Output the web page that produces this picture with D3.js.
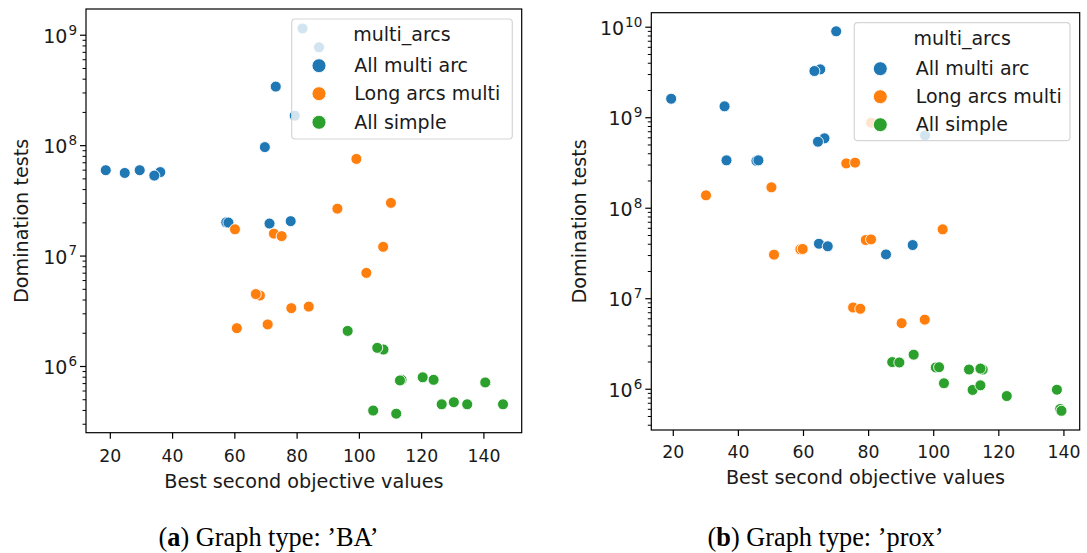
<!DOCTYPE html>
<html><head><meta charset="utf-8">
<script src="https://cdn.jsdelivr.net/npm/d3@7/dist/d3.min.js"></script>
<style>body{margin:0;background:#fff} svg{display:block}</style>
</head><body><svg id="c" width="1087" height="553"></svg>
<script>
const seriesNames = ["All multi arc", "Long arcs multi", "All simple"];
const legendTitle = "multi_arcs";
const xTicks = [20, 40, 60, 80, 100, 120, 140];
const baYExps = [6, 7, 8, 9];
const proxYExps = [6, 7, 8, 9, 10];

// Graph type 'BA'
const baMultiX = [18.7, 24.8, 29.6, 36.2, 34.3, 57.4, 58.1, 69.8, 73.3, 71.3, 78.1, 79.4, 81.9, 87.2];
const baMultiY = [5.93e7, 5.6e7, 5.93e7, 5.7e7, 5.3e7, 2.0e7, 1.99e7, 9.6e7, 3.39e8, 1.95e7, 2.05e7, 1.85e8, 1.14e9, 7.7e8];
const baLongX = [60.2, 72.7, 75.2, 99.2, 93.1, 110.3, 107.8, 68.2, 66.9, 60.8, 70.7, 78.3, 83.9, 102.4];
const baLongY = [1.73e7, 1.58e7, 1.5e7, 7.5e7, 2.66e7, 3.0e7, 1.2e7, 4.35e6, 4.48e6, 2.2e6, 2.38e6, 3.34e6, 3.45e6, 6.97e6];
const baSimpleX = [96.4, 107.9, 105.9, 113.7, 113.2, 120.5, 124.0, 140.6, 104.6, 112.0, 126.6, 130.5, 134.8, 146.3];
const baSimpleY = [2.08e6, 1.41e6, 1.46e6, 7.5e5, 7.4e5, 7.9e5, 7.5e5, 7.1e5, 3.95e5, 3.7e5, 4.5e5, 4.7e5, 4.5e5, 4.5e5];

// Graph type 'prox'
const proxMultiX = [19.5, 35.9, 36.5, 45.7, 46.3, 65.3, 63.5, 70.2, 66.6, 64.6, 64.9, 67.6, 85.5, 93.7, 97.5];
const proxMultiY = [1.6e9, 1.32e9, 3.34e8, 3.3e8, 3.34e8, 3.38e9, 3.24e9, 8.9e9, 5.85e8, 5.36e8, 4.0e7, 3.75e7, 3.05e7, 3.87e7, 6.3e8];
const proxLongX = [30.2, 50.3, 51.1, 59.2, 59.9, 73.3, 76.0, 80.9, 102.9, 79.3, 80.9, 75.4, 77.6, 90.3, 97.4];
const proxLongY = [1.37e8, 1.68e8, 3.03e7, 3.47e7, 3.5e7, 3.09e8, 3.15e8, 8.7e8, 5.77e7, 4.4e7, 4.47e7, 7.9e6, 7.65e6, 5.3e6, 5.8e6];
const proxSimpleX = [87.4, 89.6, 94.0, 100.8, 101.8, 103.3, 111.0, 115.2, 114.5, 112.1, 114.5, 122.6, 138.0, 139.0, 139.4];
const proxSimpleY = [1.97e6, 1.95e6, 2.38e6, 1.72e6, 1.73e6, 1.15e6, 1.63e6, 1.63e6, 1.67e6, 9.7e5, 1.09e6, 8.3e5, 9.75e5, 5.97e5, 5.7e5];

const colors = ["#1f77b4", "#ff7f0e", "#2ca02c"];
const svg = d3.select("#c");
const FONT = "DejaVu Sans, sans-serif";

function panel(cfg) {
  const g = svg.append("g");
  const x = d3.scaleLinear().domain(cfg.xDomain).range([cfg.left, cfg.right]);
  const y = d3.scaleLog().domain(cfg.yDomain).range([cfg.bottom, cfg.top]);

  // points
  cfg.series.forEach((s, i) => {
    g.append("g").selectAll("circle").data(d3.zip(s[0], s[1])).join("circle")
      .attr("cx", d => x(d[0])).attr("cy", d => y(d[1])).attr("r", 5.5)
      .attr("fill", colors[i]).attr("stroke", "#fff").attr("stroke-width", 0.9);
  });

  // x axis
  const xa = g.append("g").attr("transform", `translate(0,${cfg.bottom})`)
    .call(d3.axisBottom(x).tickValues(xTicks).tickSize(6).tickPadding(cfg.xPad));
  xa.select(".domain").remove();
  xa.selectAll("line").attr("stroke", "#000").attr("stroke-width", 1.2);
  xa.selectAll("text").attr("font-family", FONT).attr("font-size", 17.3).attr("fill", "#1a1a1a");

  // y minor ticks
  const [lo, hi] = cfg.yDomain;
  const minor = [];
  for (let e = Math.floor(Math.log10(lo)); e <= Math.ceil(Math.log10(hi)); e++) {
    for (let m = 2; m <= 9; m++) { const v = m * 10 ** e; if (v >= lo && v <= hi) minor.push(v); }
  }
  const ymi = g.append("g").attr("transform", `translate(${cfg.left},0)`)
    .call(d3.axisLeft(y).tickValues(minor).tickSize(3.5).tickFormat(() => ""));
  ymi.select(".domain").remove();
  ymi.selectAll("line").attr("stroke", "#000").attr("stroke-width", 1);

  // y major ticks
  const ya = g.append("g").attr("transform", `translate(${cfg.left},0)`)
    .call(d3.axisLeft(y).tickValues(cfg.yExps.map(e => 10 ** e)).tickSize(6).tickPadding(3).tickFormat(() => ""));
  ya.select(".domain").remove();
  ya.selectAll("line").attr("stroke", "#000").attr("stroke-width", 1.2);
  ya.selectAll(".tick text").each(function (d) {
    const t = d3.select(this).attr("dy", null).attr("y", 7.6)
      .attr("font-family", FONT).attr("font-size", 19).attr("fill", "#1a1a1a");
    t.text("10");
    t.append("tspan").attr("font-size", 13.5).attr("dx", 1).attr("dy", -8.3).text(Math.round(Math.log10(d)));
  });

  // frame
  g.append("rect").attr("x", cfg.left).attr("y", cfg.top)
    .attr("width", cfg.right - cfg.left).attr("height", cfg.bottom - cfg.top)
    .attr("fill", "none").attr("stroke", "#000").attr("stroke-width", 1.2);

  // axis labels
  g.append("text").attr("x", (cfg.left + cfg.right) / 2).attr("y", cfg.bottom + cfg.xLabOff)
    .attr("text-anchor", "middle").attr("font-family", FONT).attr("font-size", 19.2).attr("fill", "#1a1a1a")
    .text("Best second objective values");
  g.append("text").attr("transform", `translate(${cfg.yLabX},${(cfg.top + cfg.bottom) / 2}) rotate(-90)`)
    .attr("text-anchor", "middle").attr("font-family", FONT).attr("font-size", 19.2).attr("fill", "#1a1a1a")
    .text("Domination tests");

  // legend
  const L = cfg.legend;
  g.append("rect").attr("x", L.x0).attr("y", L.y0).attr("width", L.x1 - L.x0).attr("height", L.y1 - L.y0)
    .attr("rx", 3.5).attr("fill", "#fff").attr("fill-opacity", 0.8).attr("stroke", "#d5d5d5").attr("stroke-width", 1.2);
  g.append("text").attr("x", (L.x0 + L.x1) / 2).attr("y", L.titleY).attr("text-anchor", "middle")
    .attr("font-family", FONT).attr("font-size", 19).attr("fill", "#1a1a1a").text(legendTitle);
  seriesNames.forEach((name, i) => {
    const cy = L.rowY[i];
    g.append("circle").attr("cx", L.mx).attr("cy", cy).attr("r", 7).attr("fill", colors[i])
      .attr("stroke", "#fff").attr("stroke-width", 0.9);
    g.append("text").attr("x", L.tx).attr("y", cy + 6.5).attr("font-family", FONT).attr("font-size", 19)
      .attr("fill", "#1a1a1a").text(name);
  });

  // caption
  const cap = g.append("text").attr("transform", `translate(${cfg.capX},546) scale(0.94,1)`)
    .attr("text-anchor", "middle")
    .attr("font-family", "Liberation Serif, Times New Roman, serif").attr("font-size", 28).attr("fill", "#000");
  cap.append("tspan").text("(");
  cap.append("tspan").attr("font-weight", "bold").text(cfg.capLetter);
  cap.append("tspan").text(") Graph type: \u2019" + cfg.capName + "\u2019");
}

panel({
  left: 86, right: 521.7, top: 9, bottom: 432.7,
  xDomain: [12.35, 152.3], yDomain: [10 ** 5.396, 10 ** 9.233], yExps: baYExps,
  series: [[baMultiX, baMultiY], [baLongX, baLongY], [baSimpleX, baSimpleY]],
  xPad: 11, xLabOff: 55.6, yLabX: 27.5,
  legend: { x0: 291.7, y0: 19, x1: 512.3, y1: 139, titleY: 41, rowY: [65.7, 93.7, 122.3], mx: 319, tx: 354.3 },
  capX: 268.5, capLetter: "a", capName: "BA"
});
panel({
  left: 651.3, right: 1079.7, top: 12.7, bottom: 430,
  xDomain: [13.4, 145.0], yDomain: [10 ** 5.544, 10 ** 10.155], yExps: proxYExps,
  series: [[proxMultiX, proxMultiY], [proxLongX, proxLongY], [proxSimpleX, proxSimpleY]],
  xPad: 10, xLabOff: 54, yLabX: 586,
  legend: { x0: 854.3, y0: 22.7, x1: 1070, y1: 140.7, titleY: 44.5, rowY: [68.7, 96.7, 124.7], mx: 880.3, tx: 915.7 },
  capX: 825.5, capLetter: "b", capName: "prox"
});
</script></body></html>
